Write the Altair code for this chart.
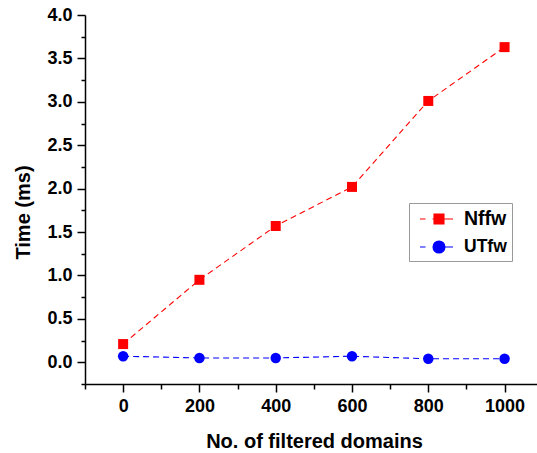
import altair as alt
import pandas as pd

domains = [0, 200, 400, 600, 800, 1000]
nffw = [0.21, 0.95, 1.57, 2.02, 3.01, 3.63]
utfw = [0.07, 0.05, 0.05, 0.07, 0.04, 0.04]
series_names = ["Nffw", "UTfw"]
series_colors = ["#ff0000", "#0000ff"]
series_shapes = ["square", "circle"]

x_major = [0, 200, 400, 600, 800, 1000]
x_minor = [-100, 100, 300, 500, 700, 900]
y_major = [0.0, 0.5, 1.0, 1.5, 2.0, 2.5, 3.0, 3.5, 4.0]
y_minor = [-0.25, 0.25, 0.75, 1.25, 1.75, 2.25, 2.75, 3.25, 3.75]

df = pd.DataFrame({
    "domains": domains * 2,
    "time": nffw + utfw,
    "series": ["Nffw"] * len(domains) + ["UTfw"] * len(domains),
})

FONT = "Liberation Sans"

xscale = alt.Scale(domain=[-100, 1085], nice=False, zero=False)
yscale = alt.Scale(domain=[-0.25, 4.0], nice=False, zero=False)
cscale = alt.Scale(domain=series_names, range=series_colors)

# legend glyphs: dashed line through the marker (unit = 10 px)
sq_path = "M-1.9,0H-1.35M-0.65,0H1.4M-0.5,-0.5H0.5V0.5H-0.5Z"
ci_path = "M-1.9,0H-1.35M-0.65,0H1.4M-0.6,0A0.6,0.6,0,1,0,0.6,0A0.6,0.6,0,1,0,-0.6,0Z"
shape_expr = f"datum.value == '{series_names[0]}' ? '{sq_path}' : '{ci_path}'"
stroke_expr = f"datum.value == '{series_names[0]}' ? '{series_colors[0]}' : '{series_colors[1]}'"

legend = alt.Legend(
    orient="none", legendX=324, legendY=188, title=None,
    strokeColor="#999999", fillColor="white", padding=5,
    symbolSize=400, symbolOffset=14, labelFont=FONT,
    labelFontSize={"expr": f"datum.value == '{series_names[0]}' ? 19.5 : 17.5"},
    labelFontWeight="bold", labelColor="black", labelOffset=14,
    rowPadding=7,
    symbolType={"expr": shape_expr},
    symbolStrokeColor={"expr": stroke_expr},
    symbolStrokeWidth=1.1,
    symbolOpacity=1,
)

x_main = alt.X("domains:Q", scale=xscale,
               axis=alt.Axis(orient="bottom", values=x_major, format="d", tickSize=8,
                             labelPadding=5, title="No. of filtered domains",
                             titleBaseline="alphabetic", titleX=229, titleY=63))
y_main = alt.Y("time:Q", scale=yscale,
               axis=alt.Axis(orient="left", values=y_major, format=".1f", tickSize=8,
                             labelPadding=5, title="Time (ms)", titleX=-52, titleY=197))
x_minor_enc = alt.X("domains:Q", scale=xscale,
                    axis=alt.Axis(orient="bottom", values=x_minor, labels=False,
                                  domain=False, tickSize=5, title=None))
y_minor_enc = alt.Y("time:Q", scale=yscale,
                    axis=alt.Axis(orient="left", values=y_minor, labels=False,
                                  domain=False, tickSize=4, title=None))
x_plain = alt.X("domains:Q", scale=xscale, axis=None)
y_plain = alt.Y("time:Q", scale=yscale, axis=None)

# layer that only carries the legend (tiny marks hidden under the real markers)
legend_layer = alt.Chart(df).mark_point(filled=True, size=1).encode(
    x=x_main, y=y_main,
    fill=alt.Fill("series:N", scale=cscale, legend=legend),
)

layers = [legend_layer]
for i, (name, col, shp) in enumerate(zip(series_names, series_colors, series_shapes)):
    base = alt.Chart(df).transform_filter(alt.datum.series == name)
    line = base.mark_line(strokeDash=[6, 4], strokeWidth=1.1, color=col).encode(
        x=x_plain, y=y_plain)
    layers.append(line)
for i, (name, col, shp) in enumerate(zip(series_names, series_colors, series_shapes)):
    base = alt.Chart(df).transform_filter(alt.datum.series == name)
    pts = base.mark_point(filled=True, opacity=1, size=110 if shp == "circle" else 100,
                          shape=shp, color=col).encode(
        x=x_minor_enc if i == 0 else x_plain,
        y=y_minor_enc if i == 0 else y_plain)
    layers.append(pts)

chart = alt.layer(*layers).resolve_axis(
    x="independent", y="independent"
).properties(
    width=452, height=369,
    autosize=alt.AutoSizeParams(type="none"),
    padding={"left": 85, "top": 15, "right": 0, "bottom": 69},
).configure_view(stroke=None).configure_axis(
    grid=False, domainColor="black", domainWidth=1.5, tickColor="black", tickWidth=1.5,
    labelFont=FONT, labelFontSize=18, labelFontWeight="bold", labelColor="black",
    titleFont=FONT, titleFontSize=20, titleFontWeight="bold", titleColor="black",
)

chart.save("out.html", embed_options={"renderer": "svg", "actions": False})
